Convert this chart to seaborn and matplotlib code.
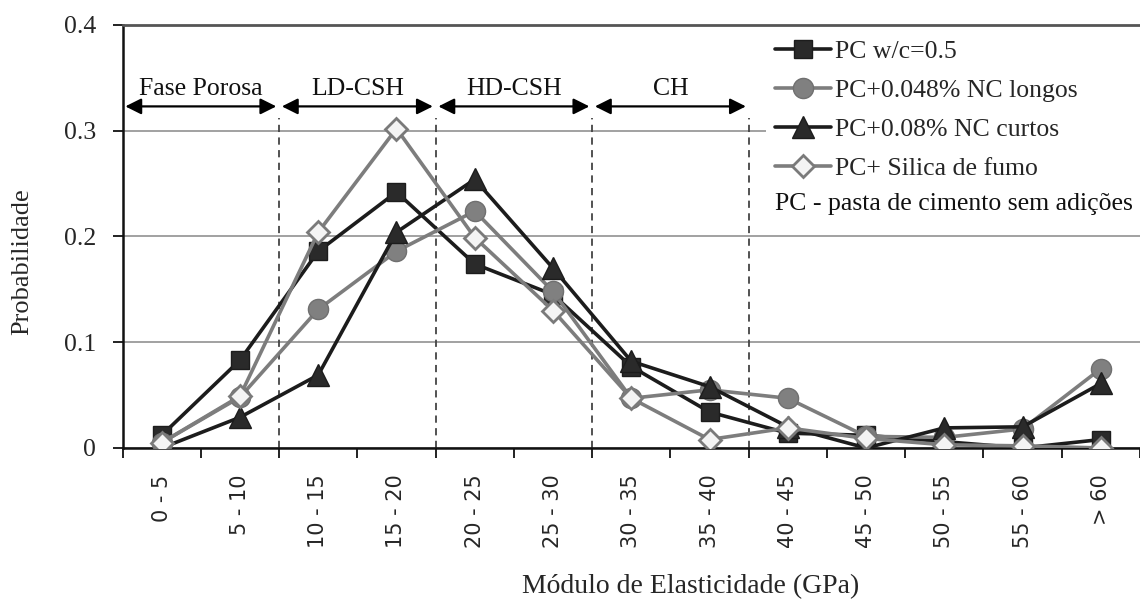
import numpy as np
import pandas as pd
import matplotlib
matplotlib.use("Agg")
import matplotlib.pyplot as plt
import seaborn as sns
from matplotlib.patches import Rectangle

# ---------------- data ----------------
categories = ["0 - 5", "5 - 10", "10 - 15", "15 - 20", "20 - 25", "25 - 30",
              "30 - 35", "35 - 40", "40 - 45", "45 - 50", "50 - 55", "55 - 60", "> 60"]
pc_wc05 = [0.012, 0.083, 0.186, 0.242, 0.174, 0.145, 0.077, 0.034, 0.014, 0.012, 0.006, 0.000, 0.008]
nc_longos = [0.005, 0.048, 0.131, 0.186, 0.224, 0.148, 0.047, 0.055, 0.047, 0.011, 0.010, 0.018, 0.075]
nc_curtos = [0.000, 0.029, 0.069, 0.204, 0.254, 0.170, 0.082, 0.058, 0.020, 0.000, 0.019, 0.020, 0.061]
silica = [0.005, 0.049, 0.204, 0.302, 0.199, 0.130, 0.047, 0.008, 0.019, 0.009, 0.003, 0.002, 0.000]
series_labels = ["PC w/c=0.5", "PC+0.048% NC longos", "PC+0.08% NC curtos", "PC+ Silica de fumo"]
note_text = "PC - pasta de cimento sem adições"

zone_names = ["Fase Porosa", "LD-CSH", "HD-CSH", "CH"]
zone_first_cat = [0, 2, 4, 6]
zone_last_cat = [1, 3, 5, 7]

yticks = [0, 0.1, 0.2, 0.3, 0.4]
ytick_labels = ["0", "0.1", "0.2", "0.3", "0.4"]
xlabel = "Módulo de Elasticidade (GPa)"
ylabel = "Probabilidade"

# ---------------- style ----------------
sns.set_style("white")
plt.rcParams["font.family"] = ["Liberation Serif", "DejaVu Serif"]

fig = plt.figure(figsize=(11.4, 6.09), dpi=100)
ax = fig.add_axes([0.1075, 0.2644, 0.8925, 0.6946])

dark = "#1c1c1c"
gray = "#7d7d7d"

x = np.arange(len(categories))
styles = [
    dict(marker="s", color=dark, mfc="#2a2a2a", mec=dark, ms=13.5),
    dict(marker="o", color=gray, mfc="#808080", mec="#707070", ms=14.5),
    dict(marker="^", color=dark, mfc="#2a2a2a", mec=dark, ms=15.5),
    dict(marker="D", color=gray, mfc="#f4f4f4", mec="#7a7a7a", ms=11, mew=2),
]
for vals, lab, st in zip([pc_wc05, nc_longos, nc_curtos, silica], series_labels, styles):
    kw = dict(st)
    sns.lineplot(x=x, y=vals, ax=ax, label=lab, lw=2.6, sort=False,
                 marker=kw.pop("marker"), color=kw.pop("color"),
                 markerfacecolor=kw.pop("mfc"), markeredgecolor=kw.pop("mec"),
                 markersize=kw.pop("ms"), markeredgewidth=kw.pop("mew", 1.0),
                 zorder=3)

ax.set_xlim(-0.5, 12.41)
ax.set_ylim(0, 0.4)

# grid
ax.set_axisbelow(True)
ax.yaxis.grid(True, color="#9a9a9a", lw=1.3)
ax.xaxis.grid(False)

# ticks
ax.set_yticks(yticks)
ax.set_yticklabels(ytick_labels, fontsize=18.5)
ax.tick_params(axis="y", which="major", direction="out", length=7, width=1.4,
               color="#222222", pad=12, left=True)
ax.set_xticks(x)
ax.set_xticklabels(categories, rotation=90, fontsize=15,
                   family=["DejaVu Sans"], va="top", ha="center")
ax.set_xticks(np.arange(len(categories) + 1) - 0.5, minor=True)
ax.tick_params(axis="x", which="major", length=0, pad=19)
ax.tick_params(axis="x", which="minor", direction="out", length=7, width=1.4,
               color="#222222", bottom=True)

for side in ["left", "bottom"]:
    ax.spines[side].set_color("#111111")
    ax.spines[side].set_linewidth(1.8)
ax.spines["top"].set_color("#555555")
ax.spines["top"].set_linewidth(2.0)
ax.spines["right"].set_visible(False)

ax.set_xlabel(xlabel, fontsize=20)
ax.xaxis.set_label_coords(0.558, -0.298)
ax.set_ylabel(ylabel, fontsize=19)
ax.yaxis.set_label_coords(-0.088, 0.44)

# zones: dashed separators, double arrows, labels
arrow_y = 0.323
for name, a, b in zip(zone_names, zone_first_cat, zone_last_cat):
    left, right = a - 0.5, b + 0.5
    ax.annotate("", xy=(left, arrow_y), xytext=(right, arrow_y),
                arrowprops=dict(arrowstyle="<|-|>", color="black", lw=1.6,
                                mutation_scale=24, shrinkA=2, shrinkB=2),
                zorder=4)
    ax.text((left + right) / 2, 0.339, name, ha="center", va="center",
            fontsize=18.5, color="#111111", zorder=4)
for b in zone_last_cat:
    ax.plot([b + 0.5, b + 0.5], [0, 0.312], ls=(0, (4, 3)), color="#444444",
            lw=1.3, zorder=1.5)

# legend area with white background
ax.add_patch(Rectangle((0.632, 0.52), 0.37, 0.47, transform=ax.transAxes,
                       facecolor="white", edgecolor="none", zorder=1.2))
leg = ax.legend(loc="upper left", bbox_to_anchor=(0.641, 0.965), frameon=False,
                fontsize=18.5, handlelength=2.2, handletextpad=0.15,
                labelspacing=0.62, borderpad=0, borderaxespad=0)
ax.text(0.641, 0.577, note_text, transform=ax.transAxes, fontsize=18.5,
        ha="left", va="center", color="#111111", zorder=4)

fig.savefig("out.png", dpi=100)
